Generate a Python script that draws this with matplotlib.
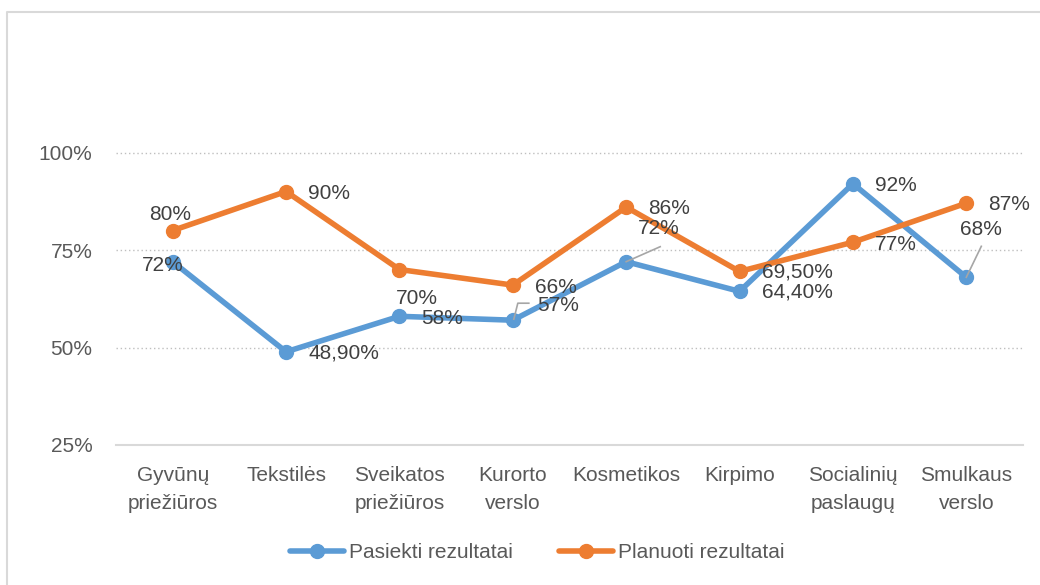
import matplotlib
matplotlib.use("Agg")
import matplotlib.pyplot as plt
from matplotlib.lines import Line2D
from matplotlib.ticker import PercentFormatter

plt.rcParams['font.family'] = ['Liberation Sans', 'DejaVu Sans']

categories = ['Gyvūnų\npriežiūros', 'Tekstilės', 'Sveikatos\npriežiūros', 'Kurorto\nverslo',
              'Kosmetikos', 'Kirpimo', 'Socialinių\npaslaugų', 'Smulkaus\nverslo']
pasiekti = [0.72, 0.489, 0.58, 0.57, 0.72, 0.644, 0.92, 0.68]
planuoti = [0.80, 0.90, 0.70, 0.66, 0.86, 0.695, 0.77, 0.87]
pasiekti_labels = ['72%', '48,90%', '58%', '57%', '72%', '64,40%', '92%', '68%']
planuoti_labels = ['80%', '90%', '70%', '66%', '86%', '69,50%', '77%', '87%']

# label offsets in pixels (dx right, dy down)
off_blue = [(-10, 4), (58, 1), (43, 2), (45, -15), (33, -33), (58, 1), (43, 2), (15, -48)]
off_orange = [(-3, -16), (43, 2), (17, 29), (43, 2), (43, 1), (58, 1), (43, 2), (43, 1)]
# leader lines (pixel offsets from the point)
leaders = {3: [(1, -1), (5, -17), (16, -17)], 4: [(0, 0), (34, -15)], 7: [(0, 0), (15, -31)]}

BLUE = '#5B9BD5'
ORANGE = '#ED7D31'
TXT = '#404040'
TICK = '#595959'

fig = plt.figure(figsize=(10.4, 5.85), dpi=100)
ax = fig.add_axes([116 / 1040, 1 - 445 / 585, (1023 - 116) / 1040, 390 / 585])

x = list(range(len(categories)))
ax.plot(x, pasiekti, color=BLUE, lw=4, marker='o', ms=10, label='Pasiekti rezultatai',
        solid_capstyle='round', zorder=3)
ax.plot(x, planuoti, color=ORANGE, lw=4, marker='o', ms=10, label='Planuoti rezultatai',
        solid_capstyle='round', zorder=4)

ax.set_xlim(-0.5, len(categories) - 0.5)
ax.set_ylim(0.25, 1.25)
ax.set_yticks([0.25, 0.5, 0.75, 1.0])
ax.yaxis.set_major_formatter(PercentFormatter(1.0, decimals=0))
ax.set_xticks(x)
ax.set_xticklabels(categories, linespacing=1.58)

for s in ['top', 'right', 'left']:
    ax.spines[s].set_visible(False)
ax.spines['bottom'].set_color('#D9D9D9')
ax.spines['bottom'].set_linewidth(1.5)
for yv in [0.5, 0.75, 1.0]:
    ax.axhline(yv, color='#BFBFBF', lw=1.0, ls=(0, (1, 2)), zorder=1)

ax.tick_params(axis='both', length=0, labelsize=15, colors=TICK)
ax.tick_params(axis='x', pad=15)
ax.tick_params(axis='y', pad=17)

for i in x:
    ax.annotate(pasiekti_labels[i], (i, pasiekti[i]), xytext=(off_blue[i][0], -off_blue[i][1]),
                textcoords='offset pixels', ha='center', va='center', fontsize=15, color=TXT, zorder=5)
    ax.annotate(planuoti_labels[i], (i, planuoti[i]), xytext=(off_orange[i][0], -off_orange[i][1]),
                textcoords='offset pixels', ha='center', va='center', fontsize=15, color=TXT, zorder=5)

for i, pts in leaders.items():
    px, py = ax.transData.transform((i, pasiekti[i]))
    xs = [px + p[0] for p in pts]
    ys = [py - p[1] for p in pts]
    fig.add_artist(Line2D(xs, ys, transform=None, color='#A6A6A6', lw=1.2, zorder=6))

fig.legend(loc='center', bbox_to_anchor=(537 / 1040, 1 - 553 / 585), ncol=2, frameon=False,
           fontsize=15, handlelength=2.6, handletextpad=0.25, columnspacing=2.2,
           labelcolor=TICK)

# chart border
fig.add_artist(Line2D([7 / 1040, 7 / 1040, 1.0], [0.0, 1 - 12 / 585, 1 - 12 / 585],
                      transform=fig.transFigure, color='#D9D9D9', lw=1.5))

fig.savefig('out.png', dpi=100)
